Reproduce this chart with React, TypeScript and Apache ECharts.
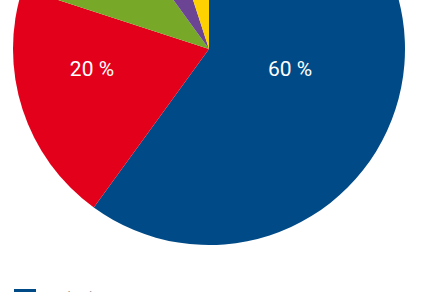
import React, { useEffect, useRef } from "react";
import * as echarts from "echarts";

const categories = ["Hydraulique", "Nucléaire", "Éolien", "Solaire", "Autres"];
const values = [60, 20, 10, 5, 5];
const colors = ["#004B87", "#E2001A", "#77A828", "#6B4593", "#FDD200"];
const labelShift = [
  [-15, -11],
  [-21, -11],
  [0, -11],
  [0, -11],
  [0, -11],
];
const labelShown = [true, true, false, false, false];

export default function App() {
  const ref = useRef<HTMLDivElement>(null);
  useEffect(() => {
    const chart = echarts.init(ref.current!, null, { renderer: "svg" });
    chart.setOption({
      animation: false,
      backgroundColor: "#ffffff",
      legend: {
        left: 14,
        top: 289,
        width: 400,
        height: 300,
        orient: "vertical",
        icon: "rect",
        itemWidth: 22,
        itemHeight: 14,
        itemGap: 10,
        padding: 0,
        textStyle: {
          color: "#9a9a9a",
          fontSize: 13,
          fontFamily: "Roboto",
          padding: [0, 0, 0, 7],
        },
        data: categories,
      },
      series: [
        {
          type: "pie",
          center: [209, 49],
          radius: 196,
          startAngle: 90,
          clockwise: true,
          label: {
            show: true,
            position: "inside",
            color: "#ffffff",
            fontSize: 21,
            fontFamily: "Roboto",
            formatter: "{c} %",
          },
          labelLine: { show: false },
          labelLayout: (p: any) => ({
            dx: labelShift[p.dataIndex][0],
            dy: labelShift[p.dataIndex][1],
          }),
          emphasis: { disabled: true },
          itemStyle: { borderWidth: 0 },
          data: categories.map((name, i) => ({
            name,
            value: values[i],
            itemStyle: { color: colors[i] },
            label: { show: labelShown[i] },
          })),
        },
      ],
    });
    return () => chart.dispose();
  }, []);
  return (
    <div
      ref={ref}
      style={{ position: "absolute", left: 0, top: 0, width: 438, height: 292 }}
    />
  );
}
